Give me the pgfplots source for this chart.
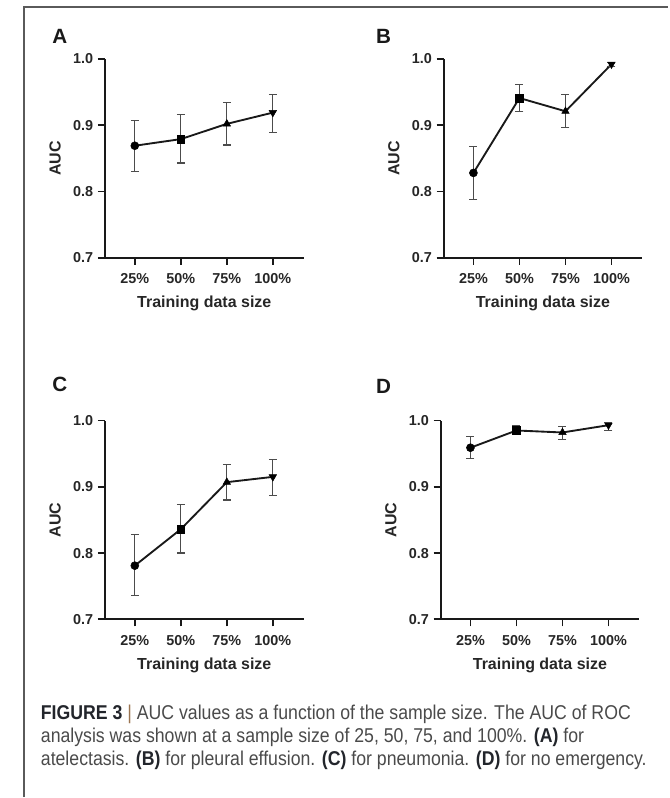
\documentclass[border=0pt]{standalone}
\usepackage{pgfplots}
\pgfplotsset{compat=1.18}
\usepackage{pgfplotstable}
\usepackage{fontspec}
\setmainfont{Liberation Sans}
\newfontfamily\capfont[FakeStretch=0.885]{Liberation Sans}

\definecolor{frame}{HTML}{5A5A5A}
\definecolor{captext}{HTML}{4A4A4A}
\definecolor{capdark}{HTML}{22252B}
\definecolor{capbar}{HTML}{9A7450}

% filled triangle pointing down
\pgfdeclareplotmark{dtriangle*}{%
    \pgfpathmoveto{\pgfqpoint{0pt}{-\pgfplotmarksize}}%
    \pgfpathlineto{\pgfqpointpolar{30}{\pgfplotmarksize}}%
    \pgfpathlineto{\pgfqpointpolar{150}{\pgfplotmarksize}}%
    \pgfpathclose
    \pgfusepathqfillstroke}

% x: 1 = 25%, 2 = 50%, 3 = 75%, 4 = 100%
\pgfplotstableread{
x y ep em m
1 0.869 0.038 0.039 a
2 0.879 0.037 0.036 b
3 0.902 0.032 0.032 c
4 0.919 0.027 0.030 d
}\dataA
\pgfplotstableread{
x y ep em m
1 0.828 0.040 0.040 a
2 0.941 0.021 0.020 b
3 0.921 0.025 0.024 c
4 0.992 0.003 0.004 d
}\dataB
\pgfplotstableread{
x y ep em m
1 0.781 0.047 0.045 a
2 0.836 0.037 0.036 b
3 0.907 0.027 0.027 c
4 0.915 0.026 0.028 d
}\dataC
\pgfplotstableread{
x y ep em m
1 0.959 0.017 0.016 a
2 0.985 0.007 0.006 b
3 0.982 0.009 0.010 c
4 0.993 0.004 0.008 d
}\dataD

\pgfplotsset{
    panel/.style={
        scale only axis,
        width=149.25pt,
        height=149.25pt,
        anchor=south west,
        xmin=0.35, xmax=4.67,
        ymin=0.7, ymax=1.0,
        xtick={1,2,3,4},
        xticklabels={25\%,50\%,75\%,100\%},
        ytick={0.7,0.8,0.9,1.0},
        yticklabels={0.7,0.8,0.9,1.0},
        axis x line*=bottom,
        axis y line*=left,
        axis line style={line width=1.5pt, black!90},
        tick style={line width=1.3pt, black!90},
        tick align=outside,
        major tick length=5.25pt,
        tick label style={font=\bfseries\fontsize{10.8}{12}\selectfont, text=black!85},
        xticklabel style={yshift=-3pt},
        label style={font=\bfseries\fontsize{12}{14}\selectfont, text=black!85},
        xlabel={Training data size},
        ylabel={AUC},
        xlabel style={at={(axis description cs:0.5,-0.25)}, anchor=base},
        ylabel style={at={(axis description cs:-0.25,0.5)}, anchor=center},
        clip=false,
    },
    errline/.style={
        black!90, line width=1.4pt, no markers,
        error bars/.cd,
            y dir=both, y explicit,
            error bar style={line width=0.9pt, black!70},
            error mark options={rotate=90, mark size=3pt, line width=0.9pt, black!70},
    },
    pts/.style={
        only marks, scatter,
        scatter src=explicit symbolic,
        scatter/classes={
            a={mark=*, mark size=3pt, black},
            b={mark=square*, mark size=2.9pt, black},
            c={mark=triangle*, mark size=3.2pt, black},
            d={mark=dtriangle*, mark size=3.2pt, black}
        },
    },
}

\begin{document}
\begin{tikzpicture}[x=0.75pt, y=-0.75pt]
    % page size and frame
    \path (0,0) rectangle (669,798);
    \draw[frame, line width=1.3pt] (24,798) -- (24,7) -- (669,7);

    \coordinate (oA) at (105,258);
    \coordinate (oB) at (444,258);
    \coordinate (oC) at (105,620);
    \coordinate (oD) at (441,620);

    % A
    \begin{axis}[panel, at={(oA)}]
        \addplot[errline] table[x=x, y=y, y error plus=ep, y error minus=em] {\dataA};
        \addplot[pts] table[x=x, y=y, meta=m] {\dataA};
    \end{axis}
    % B
    \begin{axis}[panel, at={(oB)}]
        \addplot[errline] table[x=x, y=y, y error plus=ep, y error minus=em] {\dataB};
        \addplot[pts] table[x=x, y=y, meta=m] {\dataB};
    \end{axis}
    % C
    \begin{axis}[panel, at={(oC)}]
        \addplot[errline] table[x=x, y=y, y error plus=ep, y error minus=em] {\dataC};
        \addplot[pts] table[x=x, y=y, meta=m] {\dataC};
    \end{axis}
    % D
    \begin{axis}[panel, at={(oD)}]
        \addplot[errline] table[x=x, y=y, y error plus=ep, y error minus=em] {\dataD};
        \addplot[pts] table[x=x, y=y, meta=m] {\dataD};
    \end{axis}

    % panel letters
    \begin{scope}[every node/.style={font=\bfseries\fontsize{15.5}{17}\selectfont, text=black!90}]
        \node at (60,36) {A};
        \node at (384,36) {B};
        \node at (60,385) {C};
        \node at (384,387) {D};
    \end{scope}

    % caption
    \begin{scope}[every node/.style={anchor=base west, inner sep=0pt,
            font=\capfont\fontsize{15}{17}\selectfont, text=captext}]
        \node at (40.7,720) {\textcolor{capdark}{\bfseries FIGURE 3} \textcolor{capbar}{|} AUC values as a function of the sample size. The AUC of ROC};
        \node at (40.7,743) {analysis was shown at a sample size of 25, 50, 75, and 100\%. \textcolor{capdark}{\bfseries(A)} for};
        \node at (40.7,766) {atelectasis. \textcolor{capdark}{\bfseries(B)} for pleural effusion. \textcolor{capdark}{\bfseries(C)} for pneumonia. \textcolor{capdark}{\bfseries(D)} for no emergency.};
    \end{scope}
\end{tikzpicture}
\end{document}
